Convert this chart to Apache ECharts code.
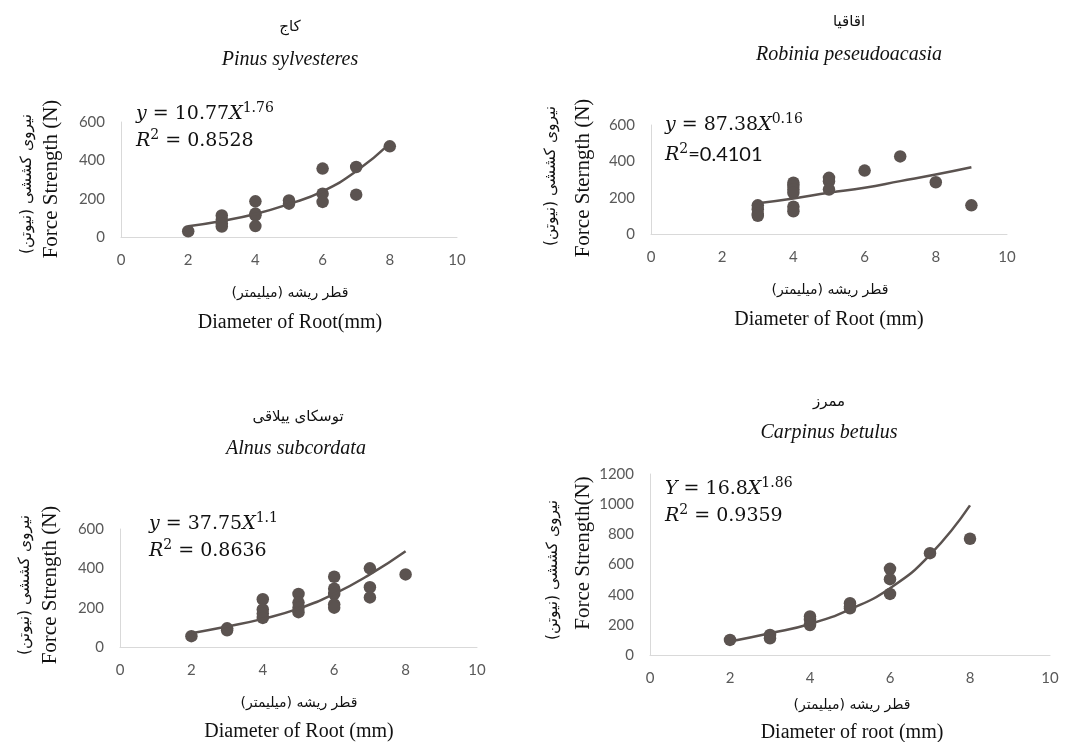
<!DOCTYPE html>
<html>
<head>
<meta charset="utf-8">
<script src="https://cdn.jsdelivr.net/npm/echarts@6/dist/echarts.min.js"></script>
<style>
  html, body { margin: 0; padding: 0; background: #fff; }
  #chart { width: 1087px; height: 742px; }
</style>
</head>
<body>
<div id="chart"></div>
<script>
// --- data ---
const pinusX = [2, 3, 3, 3, 3, 4, 4, 4, 4, 5, 5, 6, 6, 6, 7, 7, 8];
const pinusY = [30, 112, 90, 70, 55, 186, 122, 113, 57, 191, 174, 357, 226, 183, 365, 221, 473];
const pinusFitX = [2, 3, 4, 5, 6, 7, 8];
const pinusFitY = [56, 84, 120, 172, 238, 343, 487];

const robiniaX = [3, 3, 3, 3, 4, 4, 4, 4, 4, 4, 5, 5, 5, 6, 7, 8, 9];
const robiniaY = [158, 136, 112, 100, 282, 264, 245, 227, 150, 125, 309, 291, 245, 349, 427, 285, 158];
const robiniaFitX = [3, 4, 5, 6, 7, 8, 9];
const robiniaFitY = [169, 196, 227, 255, 291, 327, 367];

const alnusX = [2, 3, 3, 4, 4, 4, 4, 5, 5, 5, 5, 6, 6, 6, 6, 6, 7, 7, 7, 8];
const alnusY = [55, 85, 95, 243, 191, 170, 148, 270, 226, 200, 177, 357, 296, 270, 217, 200, 400, 304, 252, 369];
const alnusFitX = [2, 3, 4, 5, 6, 7, 8];
const alnusFitY = [70, 104, 143, 195, 270, 369, 487];

const carpinusX = [2, 3, 3, 4, 4, 4, 5, 5, 5, 6, 6, 6, 7, 8];
const carpinusY = [100, 133, 111, 255, 233, 199, 343, 321, 310, 571, 503, 405, 675, 771];
const carpinusFitX = [2, 3, 4, 5, 6, 7, 8];
const carpinusFitY = [89, 144, 206, 303, 443, 664, 992];

const persianNames = ['کاج', 'اقاقیا', 'توسکای ییلاقی', 'ممرز'];
const latinNames = ['Pinus sylvesteres', 'Robinia peseudoacasia', 'Alnus subcordata', 'Carpinus betulus'];
const yTitles = ['Force Strength (N)', 'Force Sterngth (N)', 'Force Strength (N)', 'Force Strength(N)'];
const xTitles = ['Diameter of Root(mm)', 'Diameter of Root (mm)', 'Diameter of Root (mm)', 'Diameter of root (mm)'];
const yTitleFa = 'نیروی کششی (نیوتن)';
const xTitleFa = 'قطر ریشه (میلیمتر)';
const equations = [
  '{i|y} = 10.77{i|X}{s|1.76}\n{i|R}{s|2} = 0.8528',
  '{i|y} = 87.38{i|X}{s|0.16}\n{i|R}{s|2}{c|=0.4101}',
  '{i|y} = 37.75{i|X}{s|1.1}\n{i|R}{s|2} = 0.8636',
  '{i|Y} = 16.8{i|X}{s|1.86}\n{i|R}{s|2} = 0.9359'
];
const yMax = [600, 600, 600, 1200];

const pairs = (xs, ys) => xs.map((x, i) => [x, ys[i]]);
const points = [pairs(pinusX, pinusY), pairs(robiniaX, robiniaY), pairs(alnusX, alnusY), pairs(carpinusX, carpinusY)];
const fits = [pairs(pinusFitX, pinusFitY), pairs(robiniaFitX, robiniaFitY), pairs(alnusFitX, alnusFitY), pairs(carpinusFitX, carpinusFitY)];

// --- layout ---
const grids = [
  { left: 121, top: 122, width: 336, height: 115 },
  { left: 651, top: 125, width: 356, height: 109 },
  { left: 120, top: 529, width: 357, height: 118 },
  { left: 650, top: 474, width: 400, height: 181 }
];
const textPos = [
  { faT: [290, 27], laT: [290, 60], eq: [136, 101], yEn: [51, 179], yFa: [27, 184], xFa: [290, 293], xEn: [290, 323], eqLH: 27 },
  { faT: [849, 22], laT: [849, 55], eq: [665, 110], yEn: [583, 178], yFa: [551, 176], xFa: [830, 290], xEn: [829, 320], eqLH: 30 },
  { faT: [298, 417], laT: [296, 449], eq: [149, 511], yEn: [50, 585], yFa: [25, 585], xFa: [299, 703], xEn: [299, 732], eqLH: 27 },
  { faT: [829, 402], laT: [829, 433], eq: [665, 476], yEn: [583, 553], yFa: [553, 570], xFa: [852, 705], xEn: [852, 733], eqLH: 27 }
];

const ink = '#5b5350';
const labelGrey = '#595959';
const rtl = (s) => '\u200F' + s + '\u200F';

function txt(pos, text, extra) {
  return {
    type: 'text', x: pos[0], y: pos[1], silent: true,
    style: Object.assign({ text: text, fill: '#111', align: 'center', verticalAlign: 'middle' }, extra)
  };
}

const graphics = [];
textPos.forEach((p, i) => {
  graphics.push(txt(p.faT, rtl(persianNames[i]), { fontFamily: 'DejaVu Sans', fontSize: 15 }));
  graphics.push(txt(p.laT, latinNames[i], { fontFamily: 'Liberation Serif', fontStyle: 'italic', fontSize: 20 }));
  graphics.push(txt(p.xFa, rtl(xTitleFa), { fontFamily: 'DejaVu Sans', fontSize: 14 }));
  graphics.push(txt(p.xEn, xTitles[i], { fontFamily: 'Liberation Serif', fontSize: 20 }));
  const yEn = txt(p.yEn, yTitles[i], { fontFamily: 'Liberation Serif', fontSize: 21 });
  yEn.rotation = Math.PI / 2;
  graphics.push(yEn);
  const yFa = txt(p.yFa, rtl(yTitleFa), { fontFamily: 'DejaVu Sans', fontSize: 15.5 });
  yFa.rotation = Math.PI / 2;
  graphics.push(yFa);
  graphics.push({
    type: 'text', x: p.eq[0], y: p.eq[1], silent: true,
    style: {
      text: equations[i], align: 'left', verticalAlign: 'top', fill: '#111',
      fontFamily: 'DejaVu Serif', fontSize: 19, lineHeight: p.eqLH,
      rich: {
        i: { fontFamily: 'DejaVu Serif', fontStyle: 'italic', fontSize: 19, lineHeight: p.eqLH, fill: '#111' },
        s: { fontFamily: 'DejaVu Serif', fontSize: 14, padding: [0, 0, 12, 0], fill: '#111' },
        c: { fontFamily: 'Lato', fontSize: 20, lineHeight: p.eqLH, fill: '#111' }
      }
    }
  });
});

const chart = echarts.init(document.getElementById('chart'));

const option = {
  backgroundColor: '#fff',
  animation: false,
  grid: grids,
  xAxis: grids.map((g, i) => ({
    type: 'value', gridIndex: i, min: 0, max: 10, interval: 2,
    axisLine: { lineStyle: { color: '#d9d9d9', width: 1 } },
    axisTick: { show: false },
    splitLine: { show: false },
    axisLabel: { color: labelGrey, fontFamily: 'Lato', fontSize: 15, margin: 16 }
  })),
  yAxis: grids.map((g, i) => ({
    type: 'value', gridIndex: i, min: 0, max: yMax[i], interval: 200,
    axisLine: { show: true, lineStyle: { color: '#d9d9d9', width: 1 } },
    axisTick: { show: false },
    splitLine: { show: false },
    axisLabel: { color: labelGrey, fontFamily: 'Lato', fontSize: 15, margin: 16, formatter: (v) => String(v) }
  })),
  series: [].concat(
    fits.map((d, i) => ({
      type: 'line', xAxisIndex: i, yAxisIndex: i, data: d, smooth: true,
      showSymbol: false, lineStyle: { color: ink, width: 2.5 }, z: 3
    })),
    points.map((d, i) => ({
      type: 'scatter', xAxisIndex: i, yAxisIndex: i, data: d,
      symbolSize: 12.5, itemStyle: { color: ink, opacity: 1 }, z: 2
    }))
  ),
  graphic: graphics
};

chart.setOption(option);
</script>
</body>
</html>
